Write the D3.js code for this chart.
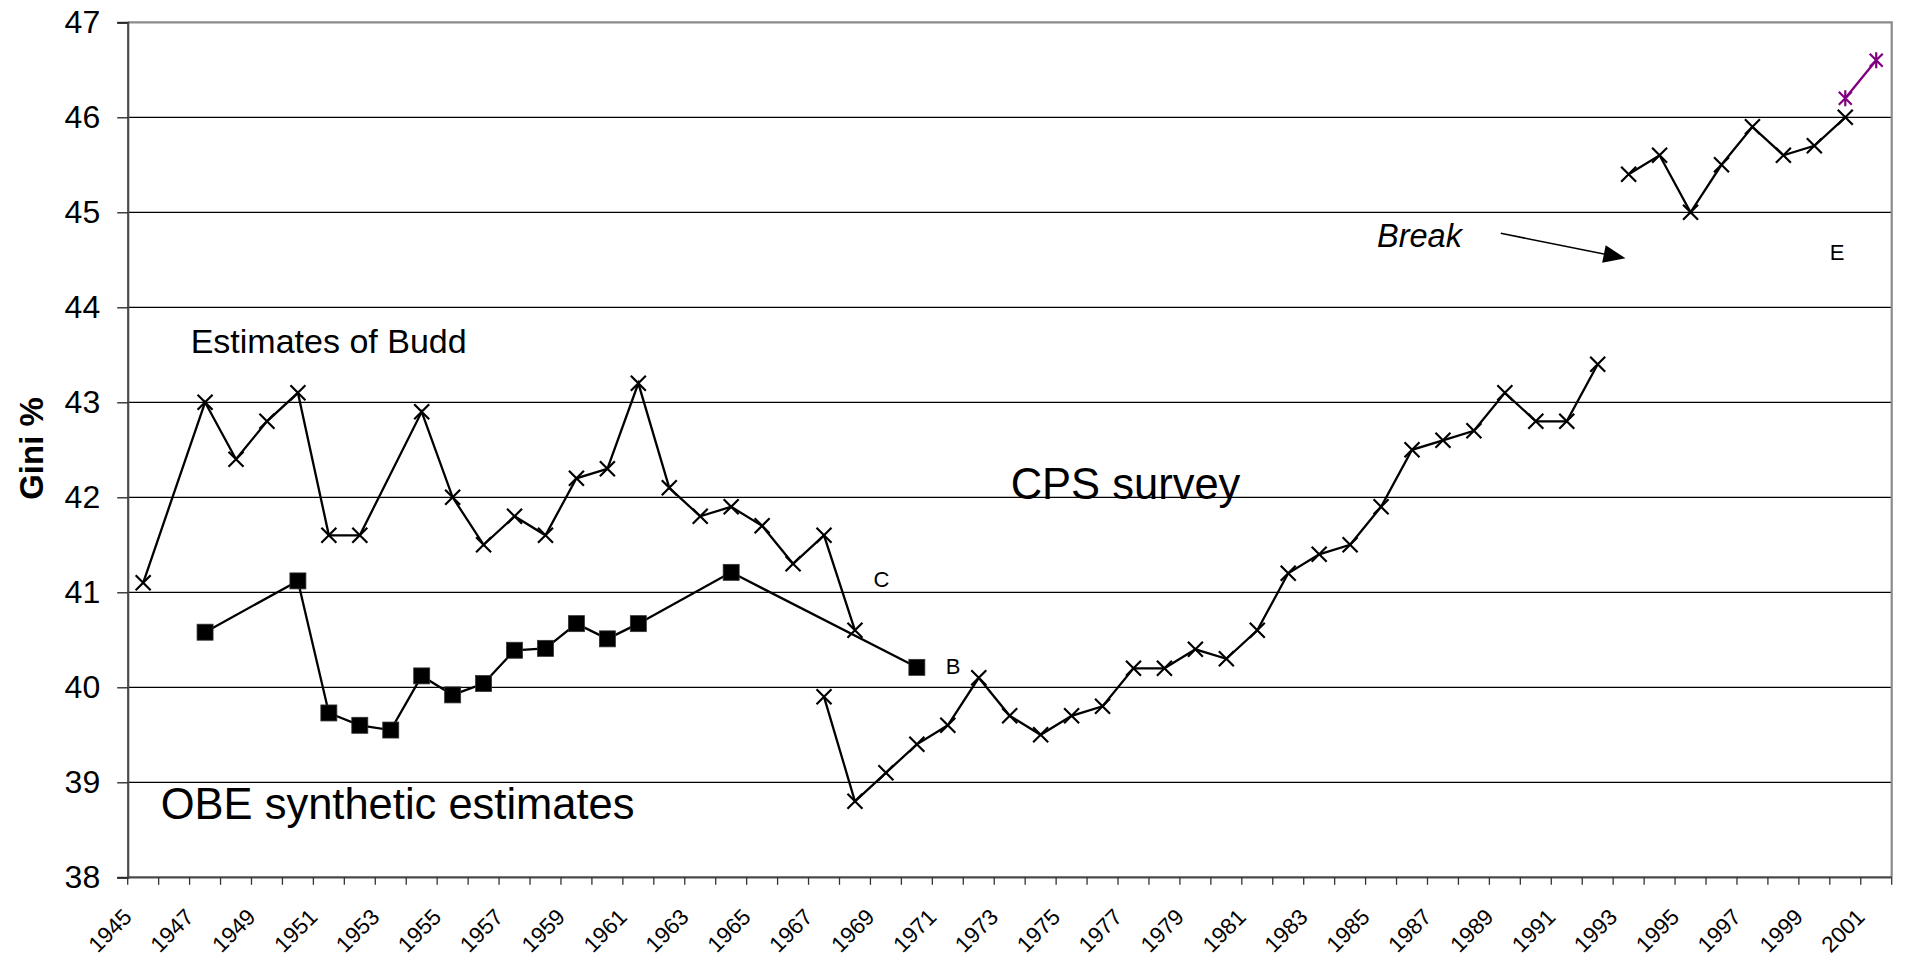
<!DOCTYPE html>
<html>
<head>
<meta charset="utf-8">
<script src="https://cdn.jsdelivr.net/npm/d3@7/dist/d3.min.js"></script>
<style>
  html, body { margin: 0; padding: 0; background: #fff; }
  svg { display: block; }
  text { font-family: "Liberation Sans", Arial, sans-serif; fill: #000; }
</style>
</head>
<body>
<svg id="chart" width="1905" height="957"></svg>
<script>
// ---------- data ----------
const years = [1945,1946,1947,1948,1949,1950,1951,1952,1953,1954,1955,1956,1957,1958,1959,
  1960,1961,1962,1963,1964,1965,1966,1967,1968,1969,1970,1971,1972,1973,1974,1975,1976,1977,
  1978,1979,1980,1981,1982,1983,1984,1985,1986,1987,1988,1989,1990,1991,1992,1993,1994,1995,
  1996,1997,1998,1999,2000,2001];

const yTicks = [38,39,40,41,42,43,44,45,46,47];

const buddYears  = [1945,1947,1948,1949,1950,1951,1952,1954,1955,1956,1957,1958,1959,1960,1961,1962,1963,1964,1965,1966,1967,1968];
const buddValues = [41.1,43.0,42.4,42.8,43.1,41.6,41.6,42.9,42.0,41.5,41.8,41.6,42.2,42.3,43.2,42.1,41.8,41.9,41.7,41.3,41.6,40.6];

const obeYears  = [1947,1950,1951,1952,1953,1954,1955,1956,1957,1958,1959,1960,1961,1964,1970];
const obeValues = [40.58,41.12,39.73,39.60,39.55,40.12,39.92,40.04,40.39,40.41,40.67,40.51,40.67,41.21,40.21];

const cpsYears1  = [1967,1968,1969,1970,1971,1972,1973,1974,1975,1976,1977,1978,1979,1980,1981,1982,1983,1984,1985,1986,1987,1988,1989,1990,1991,1992];
const cpsValues1 = [39.9,38.8,39.1,39.4,39.6,40.1,39.7,39.5,39.7,39.8,40.2,40.2,40.4,40.3,40.6,41.2,41.4,41.5,41.9,42.5,42.6,42.7,43.1,42.8,42.8,43.4];

const cpsYears2  = [1993,1994,1995,1996,1997,1998,1999,2000];
const cpsValues2 = [45.4,45.6,45.0,45.5,45.9,45.6,45.7,46.0];

const newYears  = [2000,2001];
const newValues = [46.2,46.6];

// ---------- layout ----------
const L = 127.7, R = 1891.7, T = 22.3, B = 877.3;
const svg = d3.select("#chart");

const x = d3.scaleBand().domain(years).range([L, R]).padding(0);
const cx = yr => x(yr) + x.bandwidth() / 2;
const y = d3.scaleLinear().domain([38, 47]).range([B, T]);

const zip = (ys, vs) => ys.map((yr, i) => ({yr, v: vs[i]}));

// gridlines
svg.append("g").selectAll("line")
  .data(yTicks.filter(t => t > 38 && t < 47))
  .join("line")
  .attr("x1", L).attr("x2", R)
  .attr("y1", d => y(d)).attr("y2", d => y(d))
  .attr("stroke", "#000").attr("stroke-width", 1.2);

// top & right border
svg.append("path")
  .attr("d", `M${L},${y(47)}H${R}V${B}`)
  .attr("fill", "none").attr("stroke", "#8a8a8a").attr("stroke-width", 2.2);

// y axis
const yAxis = d3.axisLeft(y).tickValues(yTicks).tickSize(10.5).tickFormat(d3.format("d")).tickPadding(17);
const gy = svg.append("g").attr("transform", `translate(${L},0)`).call(yAxis);
gy.select(".domain").attr("stroke", "#4a4a4a").attr("stroke-width", 2.2);
gy.selectAll(".tick line").attr("stroke", "#222").attr("stroke-width", 1.3);
gy.selectAll(".tick text")
  .style("font-family", '"Liberation Sans", Arial, sans-serif')
  .style("font-size", "32px").attr("fill", "#000");

// x axis: ticks at category boundaries
const boundaries = years.map(yr => x(yr)).concat([R]);
const gx = svg.append("g");
gx.append("line").attr("x1", L).attr("x2", R).attr("y1", B).attr("y2", B)
  .attr("stroke", "#4a4a4a").attr("stroke-width", 2.2);
gx.selectAll("line.tk").data(boundaries).join("line").attr("class", "tk")
  .attr("x1", d => d).attr("x2", d => d).attr("y1", B).attr("y2", B + 7.5)
  .attr("stroke", "#333").attr("stroke-width", 1.3);
gx.selectAll("text").data(years.filter((d, i) => i % 2 === 0)).join("text")
  .attr("transform", d => `translate(${cx(d) - 10},${B + 41}) rotate(-45)`)
  .attr("text-anchor", "end")
  .style("font-size", "22.5px")
  .text(d => d);

// ---------- series ----------
const line = d3.line().x(d => cx(d.yr)).y(d => y(d.v));

function drawLine(data, color) {
  svg.append("path").datum(data).attr("d", line)
    .attr("fill", "none").attr("stroke", color).attr("stroke-width", 2.3)
    .attr("stroke-linejoin", "miter");
}
function drawX(data, color, s) {
  svg.append("g").selectAll("path").data(data).join("path")
    .attr("d", d => {
      const px = cx(d.yr), py = y(d.v);
      return `M${px - s},${py - s}L${px + s},${py + s}M${px - s},${py + s}L${px + s},${py - s}`;
    })
    .attr("fill", "none").attr("stroke", color).attr("stroke-width", 2.2);
}
function drawStar(data, color, s) {
  svg.append("g").selectAll("path").data(data).join("path")
    .attr("d", d => {
      const px = cx(d.yr), py = y(d.v);
      return `M${px - s},${py - s}L${px + s},${py + s}M${px - s},${py + s}L${px + s},${py - s}M${px},${py - s - 1.5}L${px},${py + s + 1.5}`;
    })
    .attr("fill", "none").attr("stroke", color).attr("stroke-width", 2.2);
}
function drawSquares(data, s) {
  svg.append("g").selectAll("rect").data(data).join("rect")
    .attr("x", d => cx(d.yr) - s).attr("y", d => y(d.v) - s)
    .attr("width", 2 * s).attr("height", 2 * s)
    .attr("fill", "#000").attr("stroke", "#333").attr("stroke-width", 0.8);
}

const budd = zip(buddYears, buddValues);
const obe  = zip(obeYears, obeValues);
const cps1 = zip(cpsYears1, cpsValues1);
const cps2 = zip(cpsYears2, cpsValues2);
const nw   = zip(newYears, newValues);

drawLine(budd, "#000"); drawX(budd, "#000", 7.5);
drawLine(obe, "#000");  drawSquares(obe, 8);
drawLine(cps1, "#000"); drawX(cps1, "#000", 7.5);
drawLine(cps2, "#000"); drawX(cps2, "#000", 7.5);
drawLine(nw, "#800080"); drawStar(nw, "#800080", 6.5);

// ---------- annotations ----------
svg.append("text").attr("x", 190.7).attr("y", 352.7).style("font-size", "34px").text("Estimates of Budd");
svg.append("text").attr("x", 160.7).attr("y", 819.3).style("font-size", "43.5px").text("OBE synthetic estimates");
svg.append("text").attr("x", 1010.7).attr("y", 499).style("font-size", "43.5px").text("CPS survey");
svg.append("text").attr("x", 873.5).attr("y", 586.7).style("font-size", "22px").text("C");
svg.append("text").attr("x", 945.7).attr("y", 674.3).style("font-size", "22px").text("B");
svg.append("text").attr("x", 1829.7).attr("y", 260).style("font-size", "22px").text("E");
svg.append("text").attr("x", 1377).attr("y", 246.7).style("font-size", "32.5px").style("font-style", "italic").text("Break");

// arrow
const ax1 = 1500.8, ay1 = 233.3, ax2 = 1625.5, ay2 = 258.3;
const ang = Math.atan2(ay2 - ay1, ax2 - ax1);
const hl = 22, hw = 9;
const bx = ax2 - hl * Math.cos(ang), by = ay2 - hl * Math.sin(ang);
svg.append("line").attr("x1", ax1).attr("y1", ay1).attr("x2", bx).attr("y2", by)
  .attr("stroke", "#000").attr("stroke-width", 1.6);
svg.append("path")
  .attr("d", `M${ax2},${ay2}L${bx + hw * Math.sin(ang)},${by - hw * Math.cos(ang)}L${bx - hw * Math.sin(ang)},${by + hw * Math.cos(ang)}Z`)
  .attr("fill", "#000");

// y axis title
svg.append("text")
  .attr("transform", `translate(43,448.5) rotate(-90)`)
  .attr("text-anchor", "middle")
  .style("font-size", "33px").style("font-weight", "bold")
  .text("Gini %");
</script>
</body>
</html>
